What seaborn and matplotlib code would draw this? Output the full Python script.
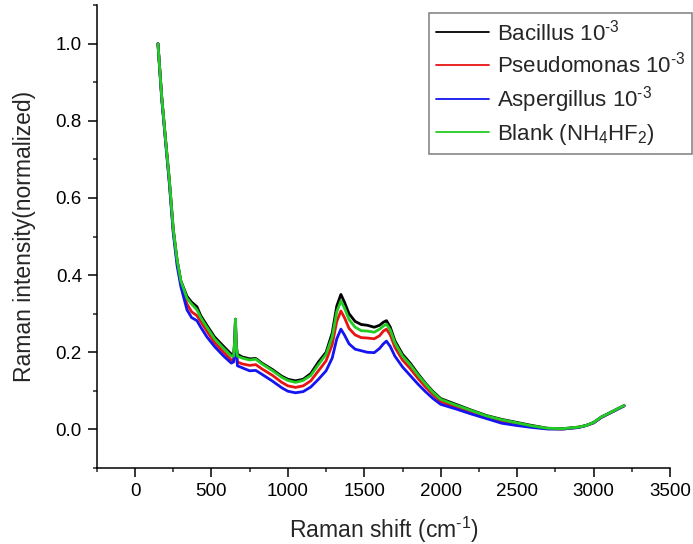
import matplotlib
matplotlib.use("Agg")
import matplotlib.pyplot as plt
import seaborn as sns
import pandas as pd
from matplotlib.ticker import MultipleLocator
from matplotlib.lines import Line2D

# ---- data ----
shift = [150, 175, 200, 225, 250, 275, 300, 340, 370, 405, 430, 470, 520, 580, 630,
         645, 652, 657, 662, 670, 700, 750, 790, 830, 900, 960, 1000, 1050, 1100,
         1150, 1200, 1250, 1290, 1320, 1347, 1370, 1400, 1440, 1480, 1520, 1565,
         1600, 1625, 1645, 1670, 1700, 1750, 1800, 1850, 1900, 1950, 2000, 2100,
         2200, 2300, 2400, 2500, 2600, 2700, 2800, 2900, 2950, 3000, 3050, 3100,
         3150, 3200]

bacillus = [1.0, 0.86, 0.75, 0.645, 0.52, 0.44, 0.385, 0.345, 0.33, 0.318, 0.295, 0.27,
            0.24, 0.215, 0.195, 0.195, 0.23, 0.286, 0.22, 0.195, 0.188, 0.183, 0.184,
            0.172, 0.155, 0.138, 0.13, 0.126, 0.13, 0.145, 0.175, 0.2, 0.25, 0.32,
            0.35, 0.33, 0.30, 0.28, 0.272, 0.27, 0.265, 0.27, 0.278, 0.282, 0.265,
            0.23, 0.195, 0.172, 0.145, 0.12, 0.098, 0.08, 0.065, 0.05, 0.036, 0.026,
            0.018, 0.01, 0.003, 0.002, 0.006, 0.01, 0.018, 0.032, 0.042, 0.052, 0.062]

pseudomonas = [1.0, 0.86, 0.75, 0.64, 0.515, 0.435, 0.378, 0.325, 0.305, 0.295, 0.28,
               0.255, 0.225, 0.2, 0.18, 0.178, 0.22, 0.283, 0.21, 0.175, 0.17, 0.166,
               0.168, 0.157, 0.14, 0.122, 0.113, 0.109, 0.113, 0.126, 0.152, 0.178,
               0.22, 0.28, 0.307, 0.29, 0.262, 0.245, 0.238, 0.237, 0.235, 0.243,
               0.255, 0.26, 0.245, 0.213, 0.18, 0.158, 0.133, 0.11, 0.09, 0.072,
               0.058, 0.046, 0.033, 0.022, 0.014, 0.007, 0.002, 0.001, 0.005, 0.01,
               0.017, 0.031, 0.041, 0.051, 0.061]

aspergillus = [1.0, 0.855, 0.745, 0.635, 0.51, 0.425, 0.37, 0.31, 0.29, 0.282, 0.265,
               0.24, 0.215, 0.19, 0.172, 0.175, 0.215, 0.28, 0.2, 0.165, 0.16, 0.152,
               0.153, 0.143, 0.125, 0.108, 0.099, 0.095, 0.098, 0.11, 0.13, 0.152,
               0.185, 0.235, 0.26, 0.245, 0.222, 0.208, 0.204, 0.2, 0.199, 0.21,
               0.222, 0.229, 0.215, 0.19, 0.162, 0.14, 0.118, 0.098, 0.08, 0.065,
               0.053, 0.04, 0.028, 0.016, 0.01, 0.005, 0.001, 0.001, 0.005, 0.01,
               0.017, 0.031, 0.041, 0.051, 0.061]

blank = [1.0, 0.86, 0.75, 0.645, 0.52, 0.44, 0.385, 0.34, 0.325, 0.31, 0.29, 0.265,
         0.235, 0.21, 0.19, 0.19, 0.228, 0.286, 0.218, 0.19, 0.185, 0.18, 0.182,
         0.17, 0.152, 0.135, 0.127, 0.122, 0.127, 0.14, 0.168, 0.195, 0.24, 0.305,
         0.333, 0.315, 0.285, 0.265, 0.256, 0.255, 0.252, 0.26, 0.268, 0.273,
         0.258, 0.225, 0.19, 0.168, 0.142, 0.118, 0.096, 0.078, 0.063, 0.049,
         0.035, 0.025, 0.017, 0.009, 0.003, 0.002, 0.006, 0.01, 0.018, 0.032,
         0.042, 0.052, 0.062]

labels = ["Bacillus 10$^{\\text{-3}}$", "Pseudomonas 10$^{\\text{-3}}$",
          "Aspergillus 10$^{\\text{-3}}$", "Blank (NH$_4$HF$_2$)"]
colors = ["#000000", "#e81313", "#1414f0", "#22cc22"]

series = [bacillus, pseudomonas, aspergillus, blank]
df = pd.concat([pd.DataFrame({"shift": shift, "intensity": s, "sample": lab})
                for s, lab in zip(series, labels)], ignore_index=True)

# ---- style ----
sns.set_style("ticks")
plt.rcParams["font.family"] = ["Liberation Sans", "DejaVu Sans"]
plt.rcParams["mathtext.fontset"] = "custom"
plt.rcParams["mathtext.rm"] = "Liberation Sans"
plt.rcParams["mathtext.it"] = "Liberation Sans:italic"
plt.rcParams["mathtext.bf"] = "Liberation Sans:bold"

fig = plt.figure(figsize=(6.93, 5.44), dpi=100)
ax = fig.add_axes([0.1397, 0.1397, 0.8271, 0.8509])

sns.lineplot(data=df, x="shift", y="intensity", hue="sample",
             hue_order=labels, palette=colors, sort=False,
             estimator=None, linewidth=2.0, ax=ax, legend=False)

ax.set_xlim(-250, 3500)
ax.set_ylim(-0.1, 1.1)
ax.xaxis.set_major_locator(MultipleLocator(500))
ax.xaxis.set_minor_locator(MultipleLocator(250))
ax.set_yticks([0.0, 0.2, 0.4, 0.6, 0.8, 1.0])
ax.set_yticklabels(["0.0", "0.2", "0.4", "0.6", "0.8", "1.0"])
ax.yaxis.set_minor_locator(MultipleLocator(0.1))
ax.tick_params(which="major", direction="out", length=6.2, width=1.1,
               labelsize=13.5, pad=4.5, colors="black")
ax.tick_params(which="minor", direction="out", length=3.2, width=1.1)
for side in ["top", "right"]:
    ax.spines[side].set_visible(False)
for side in ["left", "bottom"]:
    ax.spines[side].set_linewidth(1.1)
    ax.spines[side].set_color("black")

ax.set_xlabel("Raman shift (cm$^{\\text{-1}}$)", fontsize=16.5, labelpad=11)
ax.set_ylabel("Raman intensity(normalized)", fontsize=16.5, labelpad=14)

handles = [Line2D([], [], color=c, linewidth=1.3) for c in colors]
leg = fig.legend(handles, labels, loc="upper right",
                 bbox_to_anchor=(0.999, 0.977), fontsize=16, frameon=True,
                 fancybox=False, framealpha=1, edgecolor="#888888",
                 handlelength=2.4, handletextpad=0.35, labelspacing=0.3,
                 borderpad=0.3, borderaxespad=0.0)
leg.get_frame().set_linewidth(1.2)

fig.savefig("out.png", dpi=100)
